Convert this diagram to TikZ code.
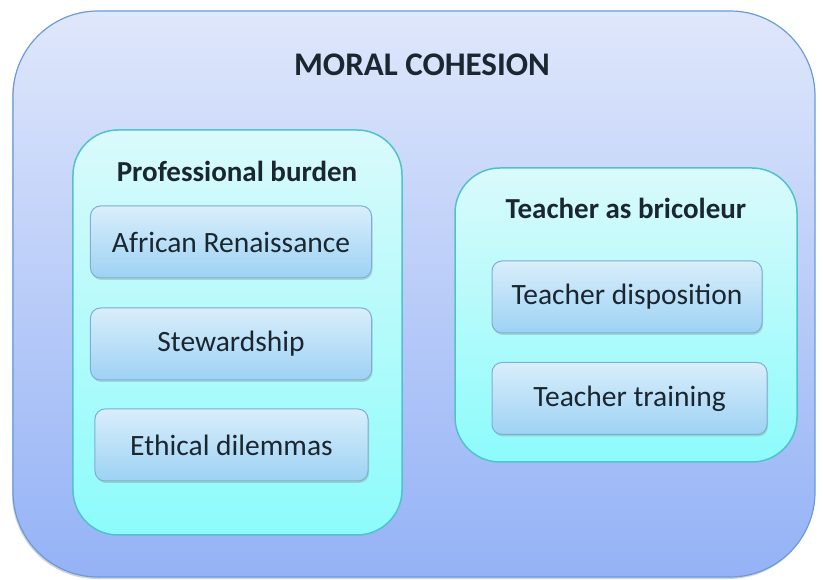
\documentclass[tikz,border=0pt]{standalone}
\usepackage{fontspec}
\setmainfont{Carlito}
\usepackage{tikz}
\usetikzlibrary{shadows}
\definecolor{outertop}{HTML}{DFE7FB}
\definecolor{outerbot}{HTML}{94B2F6}
\definecolor{outerline}{HTML}{6C9BDC}
\definecolor{grouptop}{HTML}{DAFAFB}
\definecolor{groupbot}{HTML}{8DFBFB}
\definecolor{groupline}{HTML}{4FC3CC}
\definecolor{itemtop}{HTML}{D9EEFB}
\definecolor{itembot}{HTML}{9DD2F4}
\definecolor{itemline}{HTML}{7EAFD2}
\definecolor{txt}{HTML}{1A2630}
\tikzset{
  outerbox/.style={draw=outerline, line width=1.2bp, rounded corners=85bp,
    top color=outertop, bottom color=outerbot, inner sep=0pt,
    drop shadow={shadow xshift=-1bp, shadow yshift=-2bp, opacity=0.35}},
  groupbox/.style={draw=groupline, line width=1.5bp, rounded corners=45bp,
    top color=grouptop, bottom color=groupbot, inner sep=0pt},
  itembox/.style={draw=itemline, line width=1bp, rounded corners=10bp,
    top color=itemtop, bottom color=itembot, inner sep=0pt,
    minimum width=281bp, minimum height=72bp,
    font=\fontsize{29.5bp}{34bp}\selectfont, text=txt,
    drop shadow={shadow xshift=1bp, shadow yshift=-2bp, opacity=0.3}},
  headtext/.style={font=\fontsize{29bp}{34bp}\selectfont\bfseries, text=txt},
}
\begin{document}
\begin{tikzpicture}[x=1bp,y=1bp]
\useasboundingbox (0,0) rectangle (823,580);
%%
  % Node: outer frame
  \node [outerbox, minimum width=802bp, minimum height=566bp] (cohesion) at (414,286) {};
  \node [font=\fontsize{33bp}{38bp}\selectfont\bfseries, text=txt] (title) at (422,515) {MORAL COHESION};
  % Node: left group
  \node [groupbox, minimum width=329bp, minimum height=405bp] (burden) at (237.5,247.5) {};
  \node [headtext] (burdenhead) at (237,409) {Professional burden};
  % Node: right group
  \node [groupbox, minimum width=342bp, minimum height=294bp] (bricoleur) at (626,265) {};
  \node [headtext] (bricoleurhead) at (626,372) {Teacher as bricoleur};
  % Nodes: items of the left group
  \node [itembox] (african) at (231,338) {African Renaissance};
  \node [itembox] (steward) at (231,236) {Stewardship};
  \node [itembox, minimum width=273bp] (ethical) at (231.5,135) {Ethical dilemmas};
  % Nodes: items of the right group
  \node [itembox, minimum width=270bp] (disposition) at (627,283) {Teacher disposition};
  \node [itembox, minimum width=275bp] (training) at (629.5,181.5) {Teacher training};
%
\end{tikzpicture}
\end{document}
